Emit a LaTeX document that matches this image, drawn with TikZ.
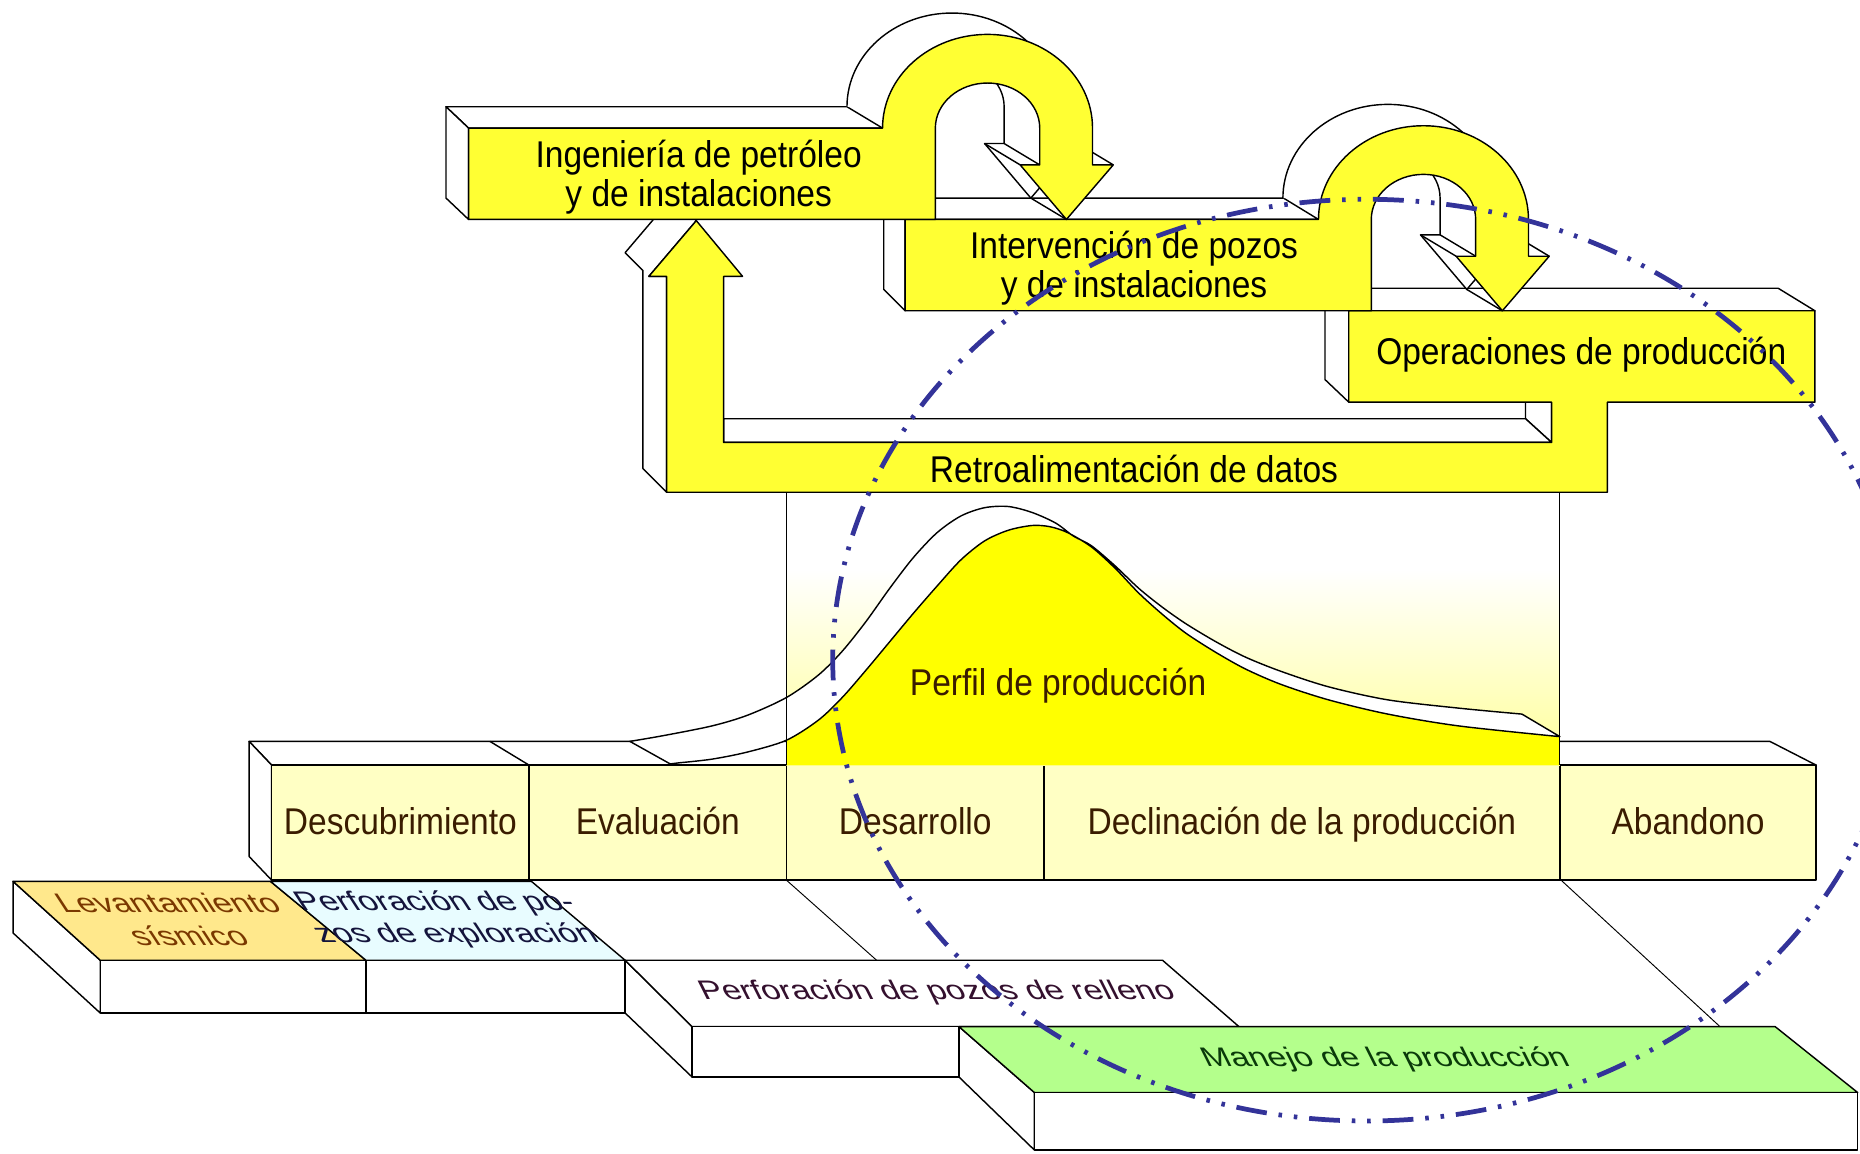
\documentclass[tikz,border=0pt]{standalone}
\usepackage{fontspec}
\setmainfont{Liberation Sans}[FakeStretch=0.9]
\usetikzlibrary{positioning}
\definecolor{arrowyellow}{HTML}{FFFF33}
\definecolor{profileyellow}{HTML}{FFFF00}
\definecolor{stageyellow}{HTML}{FFFFC4}
\definecolor{fadeyellow}{HTML}{FFFF99}
\definecolor{seismic}{HTML}{FFE88C}
\definecolor{explore}{HTML}{E8FCFF}
\definecolor{handling}{HTML}{B4FF8C}
\definecolor{ringblue}{HTML}{333399}
\definecolor{stagetext}{HTML}{3A1C00}
\definecolor{seismictext}{HTML}{7A3800}
\definecolor{exploretext}{HTML}{14143C}
\definecolor{refilltext}{HTML}{34102E}
\definecolor{handlingtext}{HTML}{0A3A0A}

\begin{document}
\begin{tikzpicture}[x=0.5pt, y=-0.5pt, line width=0.6pt, line join=round,
    facefront/.style={draw=black, fill=arrowyellow},
    faceside/.style={draw=black, fill=white},
    stagebox/.style={draw=black, fill=stageyellow},
    boxtext/.style={font=\fontsize{15.7}{16.5}\selectfont, align=center, inner sep=0pt},
    stagetxt/.style={boxtext, text=stagetext, anchor=base},
    floortxt/.style={font=\fontsize{15.7}{19}\selectfont, align=center, inner sep=0pt, transform shape},
    uturn/.style 2 args={insert path={arc[start angle=180, end angle=360, x radius=88.5, y radius=79]
      -- ({#1+88.5},{#2+31}) -- ({#1+106},{#2+31}) -- ({#1+66.5},{#2+77}) -- ({#1+27.5},{#2+31})
      -- ({#1+44},{#2+31}) -- ({#1+44},#2) arc[start angle=360, end angle=180, x radius=44, y radius=38]}},
    ring/.style={draw=ringblue, line width=2pt, dash pattern=on 13pt off 5pt on 1.5pt off 5pt on 1.5pt off 5pt}]
\useasboundingbox (0,0) rectangle (1568,972);

\filldraw[faceside] (11,743) -- (84.5,809.5) -- (84.5,854) -- (11,786.5) -- cycle;
\filldraw[draw=black, fill=seismic] (11,743) -- (228,743) -- (308.5,809.5) -- (84.5,809.5) -- cycle;
\filldraw[draw=black, fill=explore] (228,743) -- (448,743) -- (527,809.5) -- (308.5,809.5) -- cycle;
\filldraw[faceside] (84.5,809.5) rectangle (527,854);
\draw (308.5,809.5) -- (308.5,854);
\filldraw[faceside] (527,809.5) -- (583.5,865.5) -- (583.5,908) -- (527,854) -- cycle;
\filldraw[faceside] (527,809.5) -- (980,809.5) -- (1044.5,865.5) -- (583.5,865.5) -- cycle;
\filldraw[faceside] (583.5,865.5) rectangle (808.5,908);
\filldraw[faceside] (808.5,865.5) -- (872,921) -- (872,969.5) -- (808.5,908) -- cycle;
\filldraw[draw=black, fill=handling] (808.5,865.5) -- (1496.5,865.5) -- (1566,921) -- (872,921) -- cycle;
\filldraw[faceside] (872,921) rectangle (1566,969.5);
\draw[line width=0.4pt] (663,742) -- (739,809.5);
\draw[line width=0.4pt] (1316,742) -- (1450,865.5);

\filldraw[faceside] (210,625) -- (1492,625) -- (1531,645) -- (229,645) -- cycle;
\draw (413,625) -- (446,645);
\filldraw[faceside] (210,625) -- (229,645) -- (229,742) -- (210,722) -- cycle;
\filldraw[stagebox] (229,645) rectangle (1531,742);
\foreach \x in {446,663,880,1315}
  \draw (\x,645) -- (\x,742);

\fill[white] (663,415) rectangle (1315,480);
\shade[top color=white, bottom color=fadeyellow] (663,480) rectangle (1315,645);
\begin{scope}
  \clip (663,400) rectangle (1315,645);
  \fill[profileyellow] plot[smooth] coordinates {(573,643) (600,640) (630,634) (663,624) (690,607) (710,588) (730,565) (750,541) (770,517) (790,494) (810,472) (830,456) (850,447) (870,443) (885,444) (900,449) (920,461) (940,479) (960,500) (980,518) (1000,534) (1025,550) (1050,564) (1080,577) (1120,590) (1170,602) (1230,612) (1315,621)} -- (1315,645) -- (573,645) -- cycle;
\end{scope}
\filldraw[faceside] plot[smooth] coordinates {(531,625) (560,620) (600,612) (630,603) (663,588) (690,569) (710,549) (730,524) (750,496) (770,470) (790,449) (810,435) (830,428) (850,427) (870,432) (890,441) (905,452) (920,460) (940,477) (960,496) (980,512) (1000,526) (1025,541) (1050,554) (1080,566) (1120,579) (1170,590) (1230,597) (1283,602)}
  -- (1315,621) -- plot[smooth] coordinates {(1315,621) (1230,612) (1170,602) (1120,590) (1080,577) (1050,564) (1025,550) (1000,534) (980,518) (960,500) (940,479) (920,461) (900,449) (885,444) (870,443) (850,447) (830,456) (810,472) (790,494) (770,517) (750,541) (730,565) (710,588) (690,607) (663,624) (630,634) (600,640) (573,643)}
  -- (565,644) -- cycle;
\draw[line width=0.4pt] (663,415) -- (663,645);
\draw[line width=0.4pt] (1315,415) -- (1315,645);

\filldraw[faceside] (1117,243) -- (1499,243) -- (1530,262) -- (1137,262) -- cycle;
\filldraw[faceside] (1117,243) -- (1137,262) -- (1137,339) -- (1117,320) -- cycle;
\filldraw[faceside] (1286,339) -- (1286,353) -- (1308,373) -- (1308,339) -- cycle;
\filldraw[faceside] (610,353) -- (1286,353) -- (1308,373) -- (610,373) -- cycle;
\filldraw[faceside] (567,166) -- (527,213) -- (542,228) -- (542,395) -- (562,415) -- (562,233) -- (547,233) -- (587,186) -- cycle;
\filldraw[facefront] (1137,262) -- (1530,262) -- (1530,339) -- (1355,339) -- (1355,415) -- (562,415) -- (562,233)
  -- (547,233) -- (587,186) -- (626,233) -- (610,233) -- (610,373) -- (1308,373) -- (1308,339) -- (1137,339) -- cycle;

\filldraw[faceside] (745,167) -- (1082,167) -- (1111.5,185) -- (763,185) -- cycle;
\filldraw[faceside] (745,167) -- (763,185) -- (763,262) -- (745,244) -- cycle;
\filldraw[faceside, shift={(-30,-18)}] (1111.5,185) [uturn={1200}{185}];
\foreach \dx/\dy in {106/31, 66.5/77, 27.5/31, 44/31}
  \draw ({1200+\dx},{185+\dy}) -- ++(-30,-18);
\filldraw[facefront] (763,185) -- (1111.5,185) [uturn={1200}{185}] -- (1156,262) -- (763,262) -- cycle;

\filldraw[faceside] (376,90) -- (714,90) -- (744,108) -- (395,108) -- cycle;
\filldraw[faceside] (376,90) -- (395,108) -- (395,185) -- (376,167) -- cycle;
\filldraw[faceside, shift={(-30,-18)}] (744,108) [uturn={832.5}{108}];
\foreach \dx/\dy in {106/31, 66.5/77, 27.5/31, 44/31}
  \draw ({832.5+\dx},{108+\dy}) -- ++(-30,-18);
\filldraw[facefront] (395,108) -- (744,108) [uturn={832.5}{108}] -- (788.5,185) -- (395,185) -- cycle;

\node[boxtext] (inge) at (589,149) {Ingeniería de petróleo\\y de instalaciones};
\node[boxtext] (interv) at (956,226) {Intervención de pozos\\y de instalaciones};
\node[boxtext] (oper) at (1333,299) {Operaciones de producción};
\node[boxtext] (retro) at (956,395) {Retroalimentación de datos};
\node[boxtext, text=stagetext] (perfil) at (892,578) {Perfil de producción};
\node[stagetxt] (descub) at (337.5,703.5) {Descubrimiento};
\node[stagetxt] (evalua) at (554.5,703.5) {Evaluación};
\node[stagetxt] (desarr) at (771.5,703.5) {Desarrollo};
\node[stagetxt] (declin) at (1097.5,703.5) {Declinación de la producción};
\node[stagetxt] (aband) at (1423,703.5) {Abandono};
\begin{scope}[shift={(150,775)}, xslant=-0.65, yscale=0.72]
  \node[floortxt, text=seismictext] (levant) at (0,0) {Levantamiento\\sísmico};
\end{scope}
\begin{scope}[shift={(376,775)}, xslant=-0.65, yscale=0.72]
  \node[floortxt, text=exploretext] (explor) at (0,0) {Perforación de po-\\zos de exploración};
\end{scope}
\begin{scope}[shift={(790,837)}, xslant=-0.5, yscale=0.72]
  \node[floortxt, text=refilltext] (relleno) at (0,0) {Perforación de pozos de relleno};
\end{scope}
\begin{scope}[shift={(1168,893)}, xslant=-0.5, yscale=0.72]
  \node[floortxt, text=handlingtext] (manejo) at (0,0) {Manejo de la producción};
\end{scope}

\draw[ring] (1152,556.5) ellipse [x radius=450, y radius=388.5];
\end{tikzpicture}
\end{document}
